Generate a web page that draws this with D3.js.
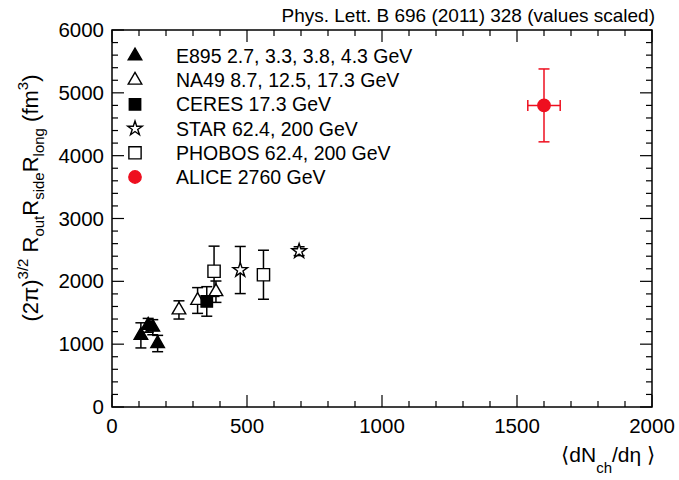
<!DOCTYPE html>
<html><head><meta charset="utf-8">
<script src="https://cdn.jsdelivr.net/npm/d3@7"></script>
<style>body{margin:0;background:#fff}svg{display:block;font-family:"Liberation Sans",Arial,sans-serif}</style>
</head><body><svg id="c" width="679" height="480"></svg>
<script>
const e895X=[107,134,151,169], e895Y=[1140,1300,1270,1010], e895Err=[200,110,120,130];
const na49X=[248,317,385], na49Y=[1545,1695,1835], na49Err=[145,205,170];
const ceresX=[351], ceresY=[1680], ceresErr=[235];
const starX=[475,693], starY=[2180,2480], starErr=[375,70];
const phobosX=[378,561], phobosY=[2160,2105], phobosErr=[400,390];
const aliceX=[1600], aliceY=[4800], aliceErr=[580], aliceXErr=[60];
const legendLabels=["E895 2.7, 3.3, 3.8, 4.3 GeV","NA49 8.7, 12.5, 17.3 GeV","CERES 17.3 GeV","STAR 62.4, 200 GeV","PHOBOS 62.4, 200 GeV","ALICE 2760 GeV"];
const xTicks=[0,500,1000,1500,2000], yTicks=[0,1000,2000,3000,4000,5000,6000];

const svg=d3.select("#c");
const L=112,R=652,T=30,B=407;
const x=d3.scaleLinear().domain([0,2000]).range([L,R]);
const y=d3.scaleLinear().domain([0,6000]).range([B,T]);

// frame
svg.append("rect").attr("x",L).attr("y",T).attr("width",R-L).attr("height",B-T).attr("fill","none").attr("stroke","#000").attr("stroke-width",1.5);
const tk=svg.append("g").attr("stroke","#000").attr("stroke-width",1.2);
d3.range(0,2001,100).forEach(v=>{const len=v%500===0?12:6;
  tk.append("line").attr("x1",x(v)).attr("x2",x(v)).attr("y1",B).attr("y2",B-len);
  tk.append("line").attr("x1",x(v)).attr("x2",x(v)).attr("y1",T).attr("y2",T+len);});
d3.range(0,6001,200).forEach(v=>{const len=v%1000===0?12:6;
  tk.append("line").attr("y1",y(v)).attr("y2",y(v)).attr("x1",L).attr("x2",L+len);
  tk.append("line").attr("y1",y(v)).attr("y2",y(v)).attr("x1",R).attr("x2",R-len);});
// tick labels
svg.append("g").selectAll("text").data(xTicks).join("text").attr("x",d=>x(d)).attr("y",B+26).attr("text-anchor","middle").attr("font-size",20.5).text(d=>d);
svg.append("g").selectAll("text").data(yTicks).join("text").attr("x",L-8).attr("y",d=>y(d)+7).attr("text-anchor","end").attr("font-size",20.5).text(d=>d);

// title
svg.append("text").attr("x",R+3).attr("y",22).attr("text-anchor","end").attr("font-size",19).text("Phys. Lett. B 696 (2011) 328 (values scaled)");

// x axis title
const xt=svg.append("text").attr("x",R+3).attr("y",462).attr("text-anchor","end").attr("font-size",21);
xt.append("tspan").text("\u27E8dN");
xt.append("tspan").attr("font-size",15).attr("dy",11).text("ch");
xt.append("tspan").attr("dy",-11).text("/d\u03B7\u00A0\u27E9");

// y axis title
const yt=svg.append("text").attr("transform","translate(38,198) rotate(-90)").attr("text-anchor","middle").attr("font-size",22);
yt.append("tspan").text("(2\u03C0)");
yt.append("tspan").attr("font-size",15).attr("dy",-10).text("3/2");
yt.append("tspan").attr("dy",10).text("\u00A0R");
yt.append("tspan").attr("font-size",15).attr("dy",6).text("out");
yt.append("tspan").attr("dy",-6).text("R");
yt.append("tspan").attr("font-size",15).attr("dy",6).text("side");
yt.append("tspan").attr("dy",-6).text("R");
yt.append("tspan").attr("font-size",15).attr("dy",6).text("long");
yt.append("tspan").attr("dy",-6).text("\u00A0(fm");
yt.append("tspan").attr("font-size",15).attr("dy",-10).text("3");
yt.append("tspan").attr("dy",10).text(")");

const series=[
 {xs:e895X,ys:e895Y,es:e895Err,sym:d3.symbolTriangle,size:80,fill:"#000",col:"#000"},
 {xs:na49X,ys:na49Y,es:na49Err,sym:d3.symbolTriangle,size:80,fill:"#fff",col:"#000"},
 {xs:ceresX,ys:ceresY,es:ceresErr,sym:d3.symbolSquare,size:130,fill:"#000",col:"#000"},
 {xs:starX,ys:starY,es:starErr,sym:d3.symbolStar,size:65,fill:"#fff",col:"#000"},
 {xs:phobosX,ys:phobosY,es:phobosErr,sym:d3.symbolSquare,size:150,fill:"#fff",col:"#000"},
 {xs:aliceX,ys:aliceY,es:aliceErr,xe:aliceXErr,sym:d3.symbolCircle,size:120,fill:"#ee0f1f",col:"#ee0f1f"}
];
const cap=5.5;
const eb=svg.append("g").attr("stroke-width",1.5);
series.forEach(s=>{s.xs.forEach((xv,i)=>{
  const cx=x(xv), y1=y(s.ys[i]+s.es[i]), y2=y(s.ys[i]-s.es[i]);
  const g=eb.append("g").attr("stroke",s.col);
  g.append("line").attr("x1",cx).attr("x2",cx).attr("y1",y1).attr("y2",y2);
  g.append("line").attr("x1",cx-cap).attr("x2",cx+cap).attr("y1",y1).attr("y2",y1);
  g.append("line").attr("x1",cx-cap).attr("x2",cx+cap).attr("y1",y2).attr("y2",y2);
  if(s.xe){const xa=x(xv-s.xe[i]), xb=x(xv+s.xe[i]), cy=y(s.ys[i]);
    g.append("line").attr("x1",xa).attr("x2",xb).attr("y1",cy).attr("y2",cy);
    g.append("line").attr("x1",xa).attr("x2",xa).attr("y1",cy-cap).attr("y2",cy+cap);
    g.append("line").attr("x1",xb).attr("x2",xb).attr("y1",cy-cap).attr("y2",cy+cap);}
});});
const mk=svg.append("g");
series.forEach(s=>{s.xs.forEach((xv,i)=>{
  mk.append("path").attr("d",d3.symbol(s.sym,s.size)()).attr("transform",`translate(${x(xv)},${y(s.ys[i])})`)
    .attr("fill",s.fill).attr("stroke",s.col).attr("stroke-width",1.4);
});});

// legend
const lg=svg.append("g");
legendLabels.forEach((t,i)=>{const s=series[i]; const yy=56+i*24.2;
  lg.append("path").attr("d",d3.symbol(s.sym,s.size)()).attr("transform",`translate(135,${yy})`).attr("fill",s.fill).attr("stroke",s.col).attr("stroke-width",1.4);
  lg.append("text").attr("x",176).attr("y",yy+7).attr("font-size",19.5).text(t);
});
</script></body></html>
